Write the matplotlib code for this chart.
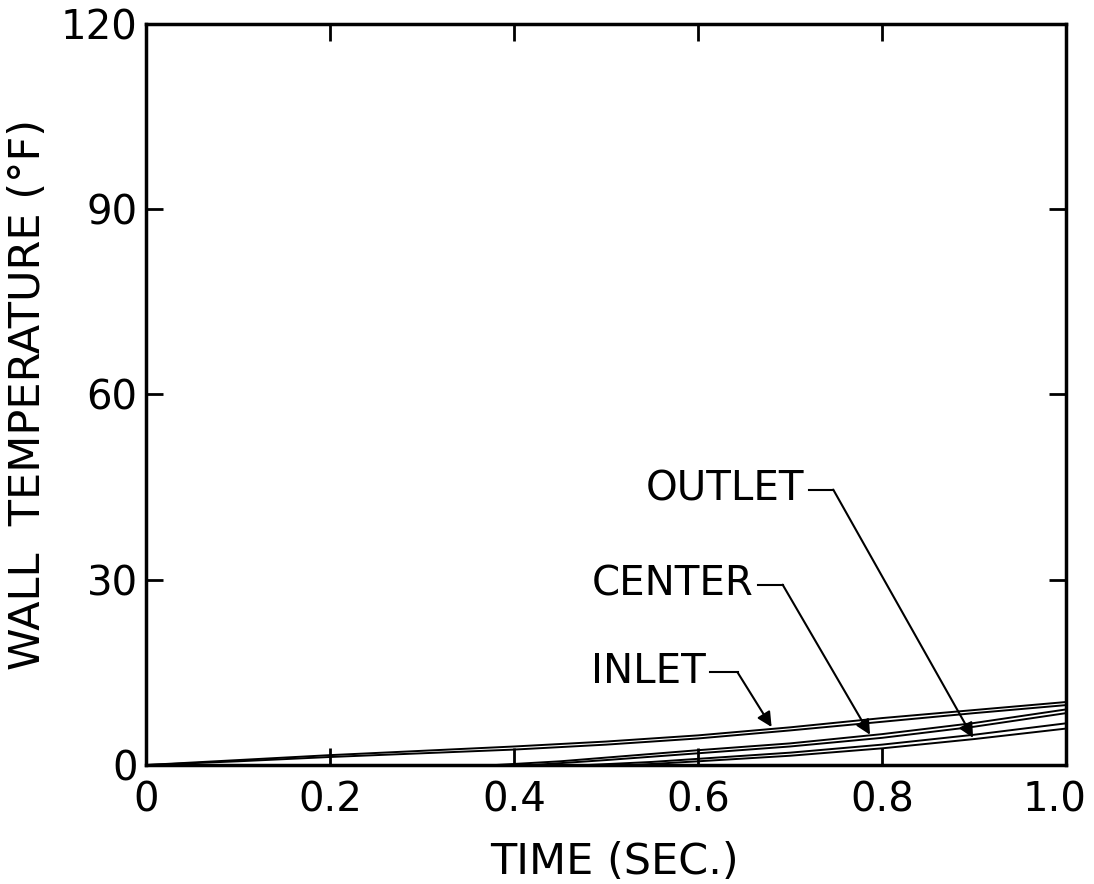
import numpy as np
import matplotlib
matplotlib.use('Agg')
import matplotlib.pyplot as plt
from matplotlib.transforms import ScaledTranslation

# wall temperature curves (time in sec, temp in deg F)
t_a = [0, 0.1, 0.2, 0.3, 0.4, 0.5, 0.6, 0.7, 0.8, 0.9, 1.0]
temp_a = [0, 0.8, 1.6, 2.3, 3.0, 3.8, 4.8, 6.1, 7.6, 8.9, 10.2]
t_b = [0, 0.1, 0.2, 0.3, 0.4, 0.5, 0.6, 0.7, 0.8, 0.9, 1.0]
temp_b = [0, 0.6, 1.3, 1.9, 2.5, 3.3, 4.3, 5.6, 7.0, 8.4, 9.7]

t_c = [0, 0.38, 0.45, 0.5, 0.6, 0.7, 0.8, 0.9, 1.0]
temp_c = [0, 0, 0.6, 1.2, 2.4, 3.5, 5.0, 6.8, 9.0]
t_d = [0, 0.42, 0.5, 0.6, 0.7, 0.8, 0.9, 1.0]
temp_d = [0, 0, 0.8, 1.9, 3.0, 4.4, 6.2, 8.4]

t_e = [0, 0.48, 0.55, 0.6, 0.7, 0.8, 0.9, 1.0]
temp_e = [0, 0, 0.5, 1.0, 2.0, 3.3, 4.9, 6.75]
t_f = [0, 0.53, 0.6, 0.7, 0.8, 0.9, 1.0]
temp_f = [0, 0, 0.6, 1.5, 2.7, 4.2, 5.9]

# labels: (text, text end, leader corner, arrow tip)
labels = ['OUTLET', 'CENTER', 'INLET']
label_end = [(0.716, 44.6), (0.660, 29.2), (0.608, 15.0)]
label_corner = [(0.747, 44.6), (0.692, 29.2), (0.643, 15.0)]
label_tip = [(0.899, 4.4), (0.787, 4.9), (0.680, 6.15)]

x_ticks = [0, 0.2, 0.4, 0.6, 0.8, 1.0]
x_ticklabels = ['0', '0.2', '0.4', '0.6', '0.8', '1.0']
y_ticks = [0, 30, 60, 90, 120]

plt.rcParams['font.family'] = 'DejaVu Sans'

fig = plt.figure(figsize=(10.94, 8.84), dpi=100)
ax = fig.add_axes([0.1335, 0.1346, 0.8409, 0.8383])

for t, v in [(t_a, temp_a), (t_b, temp_b), (t_c, temp_c),
             (t_d, temp_d), (t_e, temp_e), (t_f, temp_f)]:
    ax.plot(t, v, color='black', lw=1.4)

for txt, end, corner, tip in zip(labels, label_end, label_corner, label_tip):
    ax.text(end[0], end[1], txt, ha='right', va='center', fontsize=29)
    ax.plot([end[0] + 0.005, corner[0]], [end[1], corner[1]], color='black', lw=1.5)
    ax.annotate('', xy=tip, xytext=corner,
                arrowprops=dict(arrowstyle='-|>', color='black', lw=1.5,
                                mutation_scale=22, shrinkA=0, shrinkB=0))

ax.set_xlim(0, 1.0)
ax.set_ylim(0, 120)
ax.set_xticks(x_ticks)
ax.set_xticklabels(x_ticklabels)
ax.set_yticks(y_ticks)
ax.tick_params(direction='in', length=12, width=2, labelsize=29,
               top=True, right=True)
ax.tick_params(axis='x', pad=11)
ax.tick_params(axis='y', pad=6)
for s in ax.spines.values():
    s.set_linewidth(2.5)

# the last x label sits a bit inside so it stays on the page
last = ax.get_xticklabels()[-1]
last.set_transform(last.get_transform() + ScaledTranslation(-8 / 72, 0, fig.dpi_scale_trans))

ax.set_xlabel('TIME (SEC.)', fontsize=31)
ax.xaxis.set_label_coords(0.509, -0.103)
ax.set_ylabel('WALL  TEMPERATURE (°F)', fontsize=31)
ax.yaxis.set_label_coords(-0.106, 0.5)

fig.savefig('out.png', dpi=100)
